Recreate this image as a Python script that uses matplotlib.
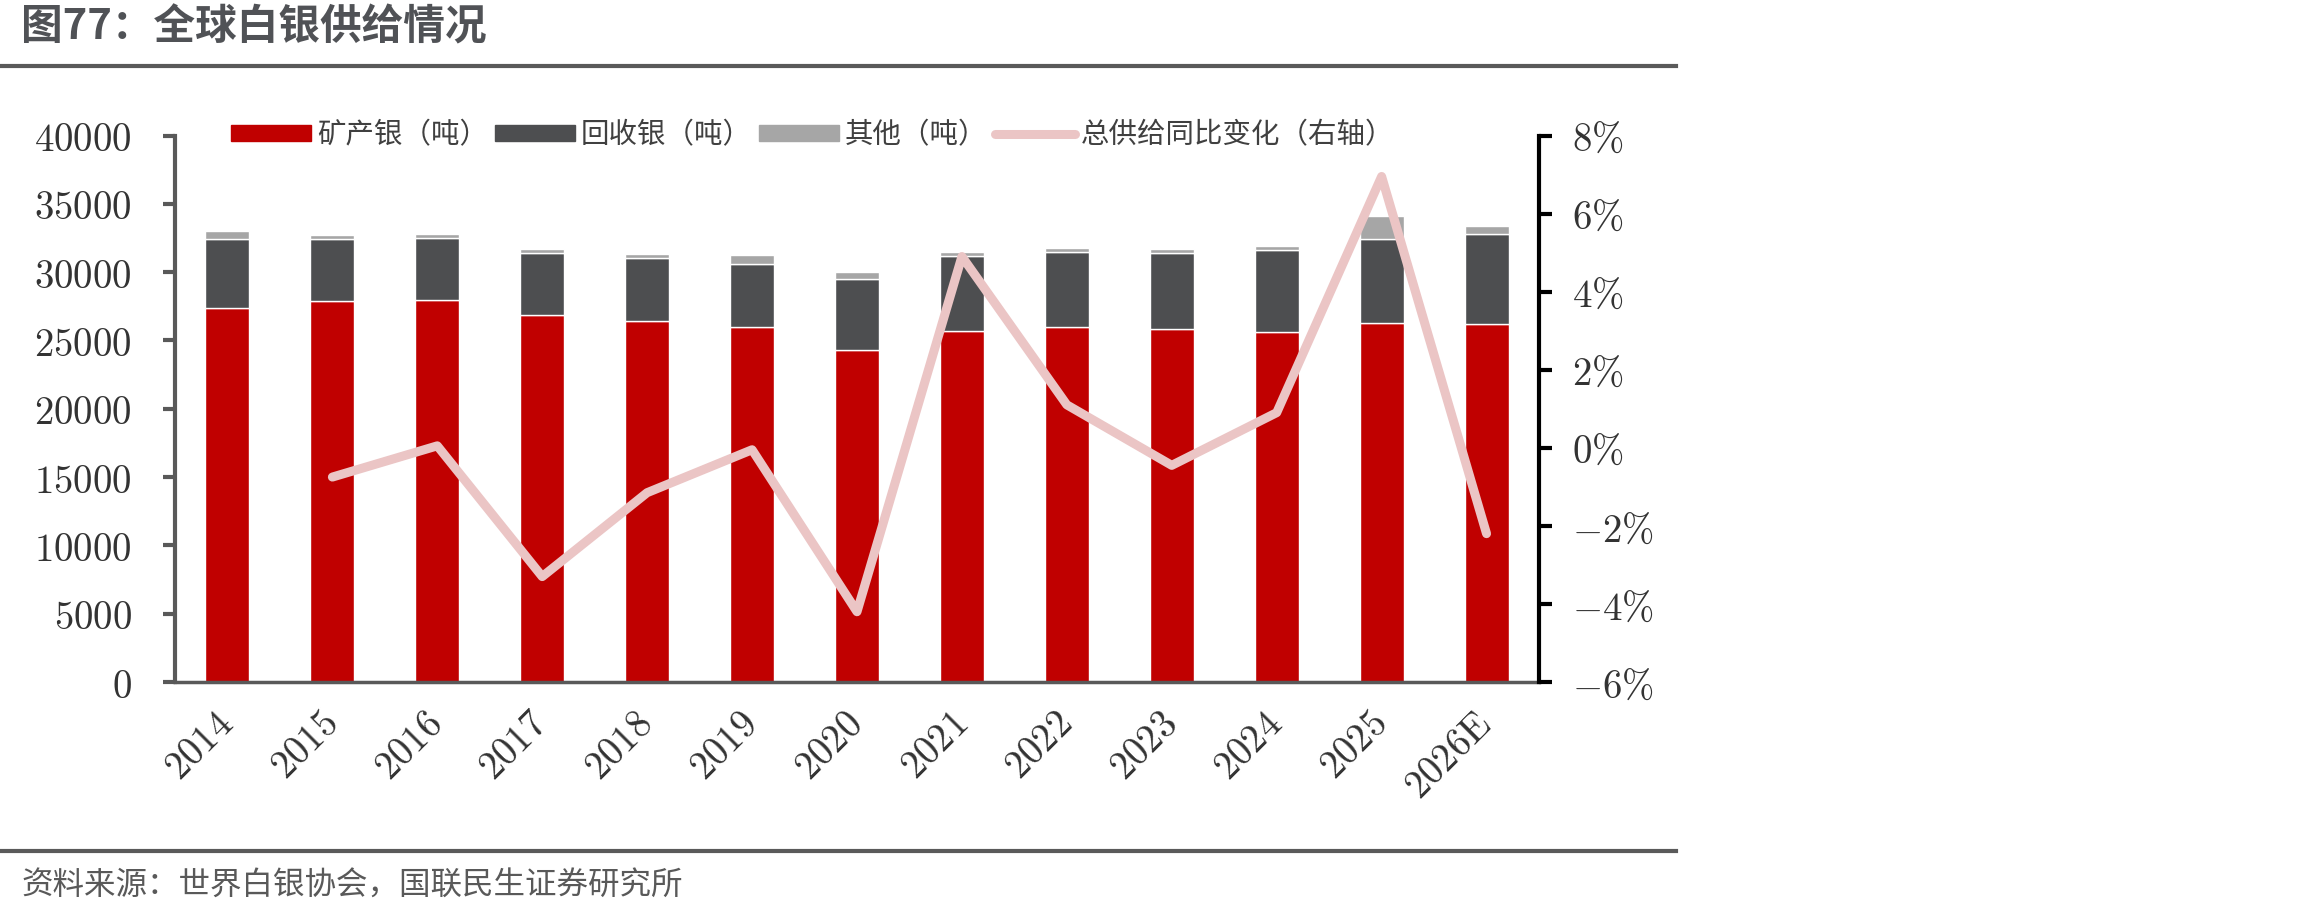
import matplotlib
matplotlib.use("Agg")
import matplotlib.pyplot as plt
from matplotlib.ticker import FuncFormatter, MultipleLocator
from matplotlib.lines import Line2D
from matplotlib.patches import Patch
from matplotlib.transforms import ScaledTranslation
import numpy as np

plt.rcParams['font.family'] = ['Noto Sans CJK SC', 'DejaVu Sans']
plt.rcParams['mathtext.fontset'] = 'cm'

# data (tonnes)
years = ['2014', '2015', '2016', '2017', '2018', '2019', '2020',
         '2021', '2022', '2023', '2024', '2025', '2026E']
mine = [27400, 27890, 27985, 26850, 26410, 25970, 24300,
        25680, 26010, 25840, 25620, 26280, 26230]
recycled = [5000, 4510, 4510, 4550, 4630, 4630, 5200,
            5500, 5460, 5540, 6000, 6150, 6560]
other = [610, 310, 270, 290, 290, 660, 510,
         290, 290, 290, 290, 1680, 590]
# total supply yoy change (%), right axis, from 2015 on
yoy = [-0.75, 0.05, -3.3, -1.15, -0.05, -4.2,
       4.9, 1.1, -0.45, 0.9, 6.95, -2.2]

c_mine = '#c00000'
c_rec = '#4d4e50'
c_other = '#a6a6a6'
c_line = '#ebc5c5'
txt = '#333333'

W, H = 2310, 916
fig = plt.figure(figsize=(W / 100, H / 100), dpi=100)

def fx(px):
    return px / W

def fy(py):
    return 1 - py / H

ax = fig.add_axes([fx(175), fy(682), fx(1539 - 175), (682 - 135.5) / H])
x = np.arange(len(years))
bw = 0.42
mine_a = np.array(mine)
rec_a = np.array(recycled)
ax.bar(x, mine, bw, color=c_mine, edgecolor='white', linewidth=1, zorder=2)
ax.bar(x, recycled, bw, bottom=mine_a, color=c_rec, edgecolor='white', linewidth=1, zorder=2)
ax.bar(x, other, bw, bottom=mine_a + rec_a, color=c_other, edgecolor='white', linewidth=1, zorder=2)
ax.set_xlim(-0.5, len(years) - 0.5)
ax.set_ylim(0, 40000)
ax.yaxis.set_major_locator(MultipleLocator(5000))
ax.yaxis.set_major_formatter(FuncFormatter(lambda v, p: '$%d$' % v))
ax.set_xticks(x)
ax.set_xticklabels(['$%s$' % y.replace('E', r'\mathrm{E}') for y in years],
                   rotation=45, ha='right', va='center', rotation_mode='anchor')
shift = ScaledTranslation(5 / 100, 0, fig.dpi_scale_trans)
for lab in ax.get_xticklabels():
    lab.set_transform(lab.get_transform() + shift)
ax.tick_params(axis='x', length=0, pad=26, labelsize=28, labelcolor=txt)
ax.tick_params(axis='y', direction='out', length=9, width=3, color='#595959',
               pad=22, labelsize=28, labelcolor=txt)
for s in ['top', 'right']:
    ax.spines[s].set_visible(False)
ax.spines['left'].set_color('#595959')
ax.spines['left'].set_linewidth(3)
ax.spines['bottom'].set_color('#595959')
ax.spines['bottom'].set_linewidth(2.5)

ax2 = ax.twinx()
ax2.plot(x[1:], yoy, color=c_line, lw=6.5, solid_capstyle='round',
         solid_joinstyle='round', zorder=3)
ax2.set_ylim(-6, 8)
ax2.yaxis.set_major_locator(MultipleLocator(2))
ax2.yaxis.set_major_formatter(FuncFormatter(lambda v, p: r'$%d\%%$' % round(v)))
ax2.tick_params(axis='y', direction='out', length=9, width=3, color='black',
                pad=15, labelsize=28, labelcolor=txt)
for s in ['top', 'left', 'bottom']:
    ax2.spines[s].set_visible(False)
ax2.spines['right'].set_color('black')
ax2.spines['right'].set_linewidth(3)

handles = [Patch(color=c_mine), Patch(color=c_rec), Patch(color=c_other),
           Line2D([], [], color=c_line, lw=6.5, solid_capstyle='round')]
labels = ['矿产银（吨）', '回收银（吨）', '其他（吨）', '总供给同比变化（右轴）']
fig.legend(handles, labels, loc='center left', bbox_to_anchor=(fx(231), fy(135)),
           ncol=4, frameon=False, borderpad=0, borderaxespad=0, fontsize=20.5,
           handlelength=2.8, handleheight=0.45, handletextpad=0.22,
           columnspacing=0.25, labelcolor='#404040')

fig.text(fx(21), fy(27), '图77：全球白银供给情况', fontsize=30, fontweight='bold',
         color='#505256', va='center', ha='left')
fig.add_artist(Line2D([0, fx(1676)], [fy(66), fy(66)], color='#5a5a5a', lw=3))
fig.add_artist(Line2D([0, fx(1676)], [fy(851), fy(851)], color='#5a5a5a', lw=3))
fig.text(fx(21), fy(886), '资料来源：世界白银协会，国联民生证券研究所', fontsize=22.7,
         color='#595959', va='center', ha='left')

fig.savefig('out.png', dpi=100, facecolor='white')
